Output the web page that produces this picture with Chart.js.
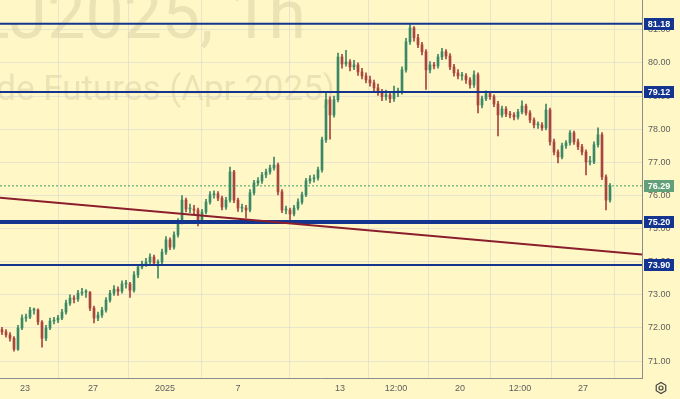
<!DOCTYPE html>
<html>
<head>
<meta charset="utf-8">
<script src="https://cdn.jsdelivr.net/npm/chart.js@4.4.1/dist/chart.umd.min.js"></script>
<style>
  html, body { margin: 0; padding: 0; background: #fff8c6; }
  canvas { display: block; }
</style>
</head>
<body>
<canvas id="grafico" width="680" height="399"></canvas>
<script>
  // Velas (uma a cada ~4 horas)
  const aberturas = [
    71.95,71.88,71.79,71.69,71.36,72.00,72.30,72.33,72.54,72.54,
    72.18,71.69,72.00,72.21,72.24,72.30,72.48,72.75,72.90,72.87,
    73.05,73.08,73.08,72.60,72.30,72.39,72.54,72.84,73.05,73.17,
    73.11,73.33,73.33,73.14,73.60,73.84,73.93,73.99,74.14,73.96,
    73.99,74.29,74.66,74.44,74.81,75.20,75.86,75.59,75.59,75.56,
    75.26,75.50,75.80,76.02,76.05,75.92,75.65,75.86,76.71,75.86,
    75.62,75.62,75.56,76.08,76.38,76.44,76.62,76.71,76.83,76.92,
    76.11,75.56,75.56,75.44,75.62,75.80,76.02,76.44,76.50,76.53,
    76.77,77.68,78.89,78.43,78.89,80.18,79.97,80.03,79.88,79.94,
    79.73,79.61,79.49,79.40,79.25,79.13,78.98,79.04,78.92,79.13,
    79.13,79.79,80.64,81.06,80.76,80.55,80.34,79.79,79.94,79.91,
    80.18,80.34,80.21,79.88,79.70,79.61,79.61,79.49,79.34,79.64,
    78.73,78.92,79.07,78.98,78.76,78.43,78.61,78.46,78.43,78.37,
    78.52,78.70,78.49,78.28,78.13,78.13,78.04,78.58,77.62,77.31,
    77.16,77.50,77.59,77.89,77.62,77.47,77.31,77.01,77.01,77.53,
    77.83,76.56,75.86
  ];
  const maximas = [
    72.02,71.95,71.86,71.74,72.08,72.40,72.42,72.62,72.60,72.58,
    72.22,72.08,72.30,72.32,72.38,72.56,72.84,73.00,72.98,73.14,
    73.20,73.16,73.10,72.66,72.48,72.62,72.92,73.14,73.28,73.24,
    73.42,73.44,73.38,73.70,73.92,74.02,74.10,74.24,74.20,74.06,
    74.38,74.76,74.72,74.90,75.30,76.00,75.92,75.74,75.70,75.62,
    75.58,75.88,76.12,76.14,76.12,75.98,75.94,76.86,76.76,75.92,
    75.74,75.70,76.18,76.46,76.54,76.70,76.80,76.92,77.16,76.98,
    76.18,75.68,75.62,75.70,75.90,76.10,76.52,76.60,76.62,76.86,
    77.76,79.10,78.98,79.00,80.30,80.26,80.38,80.10,80.08,80.00,
    79.84,79.70,79.60,79.48,79.36,79.20,79.18,79.10,79.30,79.24,
    79.88,80.74,81.16,81.10,80.86,80.62,80.40,80.04,80.02,80.26,
    80.44,80.40,80.28,79.96,79.80,79.72,79.68,79.56,79.76,79.70,
    79.00,79.16,79.12,79.04,78.84,78.70,78.68,78.54,78.50,78.60,
    78.86,78.76,78.56,78.34,78.22,78.20,78.76,78.64,77.70,77.38,
    77.58,77.66,77.96,77.94,77.70,77.54,77.38,77.18,77.62,78.04,
    77.90,76.62,76.36
  ];
  const minimas = [
    71.80,71.72,71.60,71.30,71.32,71.95,72.20,72.28,72.42,72.10,
    71.42,71.62,71.95,72.12,72.16,72.25,72.42,72.68,72.76,72.80,
    72.98,72.92,72.52,72.15,72.22,72.32,72.48,72.78,72.98,72.98,
    73.05,73.20,72.92,73.08,73.52,73.78,73.86,73.92,73.88,73.50,
    73.92,74.22,74.36,74.38,74.74,75.14,75.50,75.48,75.44,75.08,
    75.20,75.44,75.74,75.92,75.84,75.56,75.58,75.80,75.78,75.52,
    75.50,75.32,75.50,76.02,76.30,76.36,76.54,76.64,76.76,76.02,
    75.48,75.44,75.18,75.38,75.56,75.74,75.96,76.36,76.40,76.46,
    76.70,77.60,77.70,78.36,78.82,79.84,79.90,79.76,79.80,79.62,
    79.52,79.40,79.30,79.14,79.02,78.86,78.88,78.80,78.84,78.98,
    79.06,79.72,80.56,80.66,80.46,80.24,79.20,79.70,79.82,79.84,
    80.10,80.12,79.80,79.60,79.52,79.48,79.38,79.24,79.26,78.49,
    78.64,78.86,78.90,78.68,77.80,78.36,78.38,78.34,78.28,78.30,
    78.46,78.42,78.20,78.04,78.02,77.96,77.98,77.52,77.22,76.98,
    77.10,77.42,77.52,77.54,77.38,77.22,76.62,76.92,76.96,77.46,
    76.48,75.56,75.80
  ];
  const fechamentos = [
    71.88,71.79,71.69,71.36,72.00,72.30,72.33,72.54,72.54,72.18,
    71.69,72.00,72.21,72.24,72.30,72.48,72.75,72.90,72.87,73.05,
    73.08,73.08,72.60,72.30,72.39,72.54,72.84,73.05,73.17,73.11,
    73.33,73.33,73.14,73.60,73.84,73.93,73.99,74.14,73.96,73.99,
    74.29,74.66,74.44,74.81,75.20,75.86,75.59,75.59,75.56,75.26,
    75.50,75.80,76.02,76.05,75.92,75.65,75.86,76.71,75.86,75.62,
    75.62,75.56,76.08,76.38,76.44,76.62,76.71,76.83,76.92,76.11,
    75.56,75.56,75.44,75.62,75.80,76.02,76.44,76.50,76.53,76.77,
    77.68,78.89,78.43,78.89,80.18,79.97,80.03,79.88,79.94,79.73,
    79.61,79.49,79.40,79.25,79.13,78.98,79.04,78.92,79.13,79.13,
    79.79,80.64,81.06,80.76,80.55,80.34,79.79,79.94,79.91,80.18,
    80.34,80.21,79.88,79.70,79.61,79.61,79.49,79.34,79.64,78.73,
    78.92,79.07,78.98,78.76,78.43,78.61,78.46,78.43,78.37,78.52,
    78.70,78.49,78.28,78.13,78.13,78.04,78.58,77.62,77.31,77.16,
    77.50,77.59,77.89,77.62,77.47,77.31,77.01,77.01,77.53,77.83,
    76.56,75.86,76.29
  ];

  // Eixo de tempo: rótulos e posição (em número de velas)
  const rotulosX = ['23', '27', '2025', '7', '13', '12:00', '20', '12:00', '27'];
  const posicoesX = [5.75, 22.75, 40.75, 59, 84.5, 98.5, 114.5, 129.5, 145.25];
  const ticksY = [71, 72, 73, 74, 75, 76, 77, 78, 79, 80, 81];

  // Linhas desenhadas no gráfico
  const niveis = [81.18, 79.12, 75.20, 73.90];
  const tendencia = [75.93, 74.22];
  const ultimoPreco = 76.29;

  const X_MIN = -0.5, X_MAX = 160;
  const Y_MIN = 70.49, Y_MAX = 81.90;

  const corAlta = '#3b8866';
  const corBaixa = '#a8453d';
  const corNivel = '#14358f';
  const espessuraNivel = [2, 2, 4, 2];

  const indices = fechamentos.map((_, i) => i);
  const cores = indices.map(i => fechamentos[i] >= aberturas[i] ? corAlta : corBaixa);

  // Fundo amarelo e marca d'água
  const pluginFundo = {
    id: 'fundo',
    beforeDraw(chart) {
      const c = chart.ctx;
      c.save();
      c.fillStyle = '#fff8c6';
      c.fillRect(0, 0, chart.width, chart.height);
      c.fillStyle = 'rgba(120, 110, 80, 0.15)';
      c.textAlign = 'right';
      c.textBaseline = 'alphabetic';
      c.font = '68px Roboto, sans-serif';
      c.fillText('CLJ2025, 1h', 306, 38);
      c.font = '35px Roboto, sans-serif';
      c.fillText('WTI Crude Futures (Apr 2025)', 335, 100);
      c.restore();
    }
  };

  // Etiquetas do eixo de preço e ícone de configurações
  const pluginEtiquetas = {
    id: 'etiquetas',
    afterDraw(chart) {
      const c = chart.ctx;
      const y = chart.scales.y;
      const x0 = chart.chartArea.right + 2;
      c.save();
      c.font = 'bold 9px "Liberation Sans", Arial, sans-serif';
      c.textAlign = 'center';
      c.textBaseline = 'middle';

      function caixa(valor, cor) {
        const py = Math.round(y.getPixelForValue(valor));
        c.fillStyle = cor;
        c.fillRect(x0, py - 6, 30, 12);
        c.fillStyle = '#ffffff';
        c.fillText(valor.toFixed(2), x0 + 15, py + 0.5);
      }
      niveis.forEach(v => caixa(v, corNivel));
      caixa(ultimoPreco, '#62a07a');

      // ícone de engrenagem
      const cx = 661, cy = 388;
      c.strokeStyle = '#444';
      c.lineWidth = 1.2;
      c.beginPath();
      for (let k = 0; k < 6; k++) {
        const a = Math.PI / 6 + k * Math.PI / 3;
        const px = cx + 5.5 * Math.cos(a), py = cy + 5.5 * Math.sin(a);
        if (k === 0) c.moveTo(px, py); else c.lineTo(px, py);
      }
      c.closePath();
      c.stroke();
      c.beginPath();
      c.arc(cx, cy, 2, 0, Math.PI * 2);
      c.stroke();
      c.restore();
    }
  };

  function linha(valores, cor, largura, extra) {
    return Object.assign({
      type: 'line',
      data: [{ x: X_MIN, y: valores[0] }, { x: X_MAX, y: valores[1] }],
      borderColor: cor,
      backgroundColor: cor,
      borderWidth: largura,
      pointRadius: 0,
      fill: false,
      order: 0
    }, extra || {});
  }

  const conjuntos = [
    {
      type: 'bar',
      data: indices.map(i => ({ x: i, y: [minimas[i], maximas[i]] })),
      backgroundColor: cores,
      barThickness: 1,
      grouped: false,
      order: 3
    },
    {
      type: 'bar',
      data: indices.map(i => ({ x: i, y: [aberturas[i], fechamentos[i]] })),
      backgroundColor: cores,
      barThickness: 2,
      minBarLength: 1,
      grouped: false,
      order: 2
    },
    linha([ultimoPreco, ultimoPreco], '#3f9a64', 1, { borderDash: [2, 2] }),
    linha(tendencia, '#8b1e2d', 2)
  ];
  niveis.forEach((v, k) => conjuntos.push(linha([v, v], corNivel, espessuraNivel[k])));

  const ctx = document.getElementById('grafico').getContext('2d');
  new Chart(ctx, {
    type: 'bar',
    data: { datasets: conjuntos },
    plugins: [pluginFundo, pluginEtiquetas],
    options: {
      responsive: false,
      animation: false,
      devicePixelRatio: 1,
      layout: { padding: 0 },
      plugins: {
        legend: { display: false },
        tooltip: { enabled: false }
      },
      scales: {
        x: {
          type: 'linear',
          min: X_MIN,
          max: X_MAX,
          offset: false,
          grid: { color: 'rgba(205, 205, 215, 0.45)', drawTicks: false },
          border: { display: true, color: '#8c8c8c' },
          ticks: {
            font: { size: 9, family: '"Liberation Sans", Arial, sans-serif' },
            color: '#5d5d5d',
            padding: 5,
            maxRotation: 0,
            autoSkip: false,
            callback: (v, i) => rotulosX[i]
          },
          afterBuildTicks: s => { s.ticks = posicoesX.map(v => ({ value: v })); },
          afterFit: s => { s.height = 21; s.paddingLeft = 0; s.paddingRight = 0; }
        },
        y: {
          position: 'right',
          min: Y_MIN,
          max: Y_MAX,
          grid: { color: 'rgba(205, 205, 215, 0.45)', drawTicks: false },
          border: { display: true, color: '#8c8c8c' },
          ticks: {
            font: { size: 9, family: '"Liberation Sans", Arial, sans-serif' },
            color: '#5d5d5d',
            padding: 6,
            callback: v => v.toFixed(2)
          },
          afterBuildTicks: s => { s.ticks = ticksY.map(v => ({ value: v })); },
          afterFit: s => { s.width = 38; s.paddingTop = 0; s.paddingBottom = 0; }
        }
      }
    }
  });
</script>
</body>
</html>
